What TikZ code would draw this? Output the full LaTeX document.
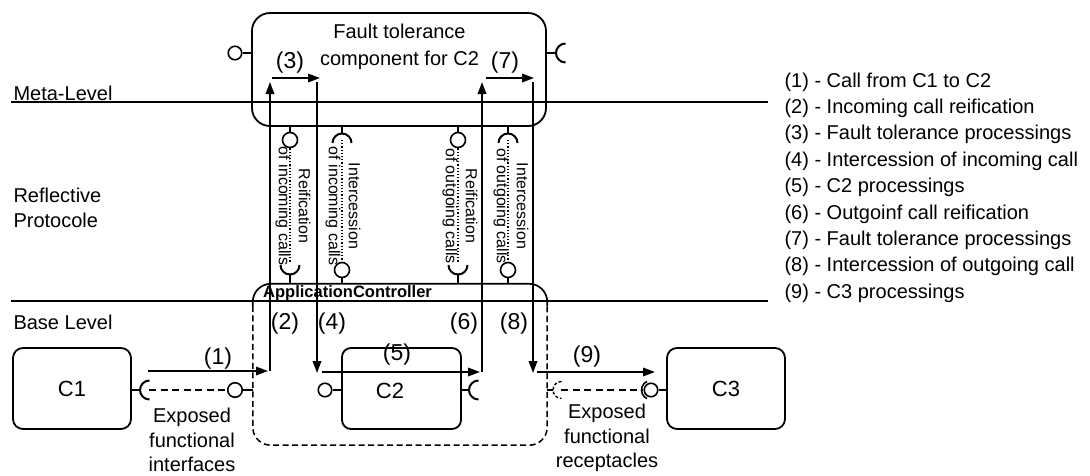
\documentclass[tikz,border=0pt]{standalone}
\usepackage{fontspec}
\setmainfont{Liberation Sans}
\usetikzlibrary{arrows.meta}
\newcommand\myfs[2]{\fontsize{#1}{#2}\selectfont}
\begin{document}
\begin{tikzpicture}[x=1pt,y=-1pt,
  box/.style={draw, line width=1.8pt, inner sep=0pt},
  ball/.style={draw, circle, line width=1.6pt, minimum size=13.5pt, inner sep=0pt},
  pball/.style={ball, minimum size=15pt},
  thin/.style={line width=1.6pt},
  cupl/.style={line width=2pt},
  arr/.style={line width=1.8pt, -{Triangle[length=12pt,width=8.5pt]}},
  dsh/.style={line width=1.5pt, dash pattern=on 7pt off 4.5pt},
  acd/.style={line width=1.5pt, dash pattern=on 6pt off 3.5pt},
  dots/.style={line width=1.2pt, dash pattern=on 1.2pt off 2pt},
  lab/.style={font=\myfs{23}{27}},
  txt/.style={font=\myfs{20}{24}},
  ptxt/.style={font=\myfs{16}{20}, rotate=-90, align=center, inner sep=0pt},
]
\useasboundingbox (0,0) rectangle (1090,475);

% level lines
\coordinate (mlL) at (11,102); \coordinate (mlR) at (768,102);
\coordinate (blL) at (11,301); \coordinate (blR) at (768,301);
\draw[line width=1.7pt] (mlL) -- (mlR);
\draw[line width=1.7pt] (blL) -- (blR);
\node[txt, anchor=west] (meta) at (10,93) {Meta-Level};
\node[txt, anchor=west, align=left, font=\myfs{20}{25}] (refl) at (10,207.5) {Reflective\\Protocole};
\node[txt, anchor=west] (base) at (10,322) {Base Level};

% fault tolerance component
\node[box, rounded corners=18pt, minimum width=294pt, minimum height=113pt] (FT) at (399,69.5) {};
\node[align=center, font=\myfs{20}{27}] (FTt) at (399.5,46.5) {Fault tolerance\\component for C2};
\node[ball] (ftb) at (235,53) {};
\draw[thin] (ftb.east) -- (ftb.east -| FT.west);
\coordinate (ftc) at (556,53);
\draw[thin] (ftc -| FT.east) -- (ftc);
\draw[cupl] ([shift={(90:9.5pt)}]565.5,53) arc (90:270:9.5pt);

% application controller
\node[minimum width=294pt, minimum height=161pt, inner sep=0pt] (AC) at (400,364.5) {};
\draw[line width=1.7pt, rounded corners=18pt] ([yshift=-22pt]AC.north west) |- (AC.north) -| ([yshift=-22pt]AC.north east);
\draw[acd, rounded corners=18pt] ([yshift=-22pt]AC.north west) |- (AC.south) -| ([yshift=-22pt]AC.north east);
\node[anchor=west, font=\myfs{16.5}{20}\bfseries, inner sep=0pt] (ACt) at (263,293) {ApplicationController};

% components
\node[box, rounded corners=10pt, minimum width=118pt, minimum height=81pt, font=\myfs{22}{26}] (C1) at (72,388.5) {C1};
\node[box, rounded corners=9pt, minimum width=119pt, minimum height=81pt] (C2) at (401.5,388.5) {};
\node[font=\myfs{22}{26}] (C2t) at (390,391) {C2};
\node[box, rounded corners=10pt, minimum width=118pt, minimum height=81pt, font=\myfs{22}{26}] (C3) at (726,388.5) {C3};

% C1 receptacle and exposed interface
\coordinate (c1c) at (140,390);
\draw[thin] (c1c -| C1.east) -- (c1c);
\draw[cupl] ([shift={(90:9.5pt)}]149.5,390) arc (90:270:9.5pt);
\node[ball, minimum size=14.5pt] (eib) at (235,390) {};
\draw[thin] (eib.east) -- (eib.east -| AC.west);
\coordinate (c1d) at (149,390);
\draw[dsh] (c1d) -- (eib.west);
\node[txt, align=center, font=\myfs{20}{24.5}] (eit) at (192,440) {Exposed\\functional\\interfaces};

% C2 interface and receptacle
\node[ball] (c2b) at (325,390) {};
\draw[thin] (c2b.east) -- (c2b.east -| C2.west);
\coordinate (c2c) at (469,390);
\draw[thin] (c2c -| C2.east) -- (c2c);
\draw[cupl] ([shift={(90:9.5pt)}]478.5,390) arc (90:270:9.5pt);

% exposed receptacle and C3 interface
\coordinate (erc) at (553,390);
\draw[acd] (erc -| AC.east) -- (erc);
\draw[line width=1.4pt, dash pattern=on 3pt off 2pt] ([shift={(90:8.5pt)}]561.5,390) arc (90:270:8.5pt);
\node[ball] (c3b) at (651,390) {};
\draw[thin] (c3b.east) -- (c3b.east -| C3.west);
\draw[thin] ([shift={(115:9.5pt)}]651,390) arc (115:245:9.5pt);
\coordinate (erd) at (561,390);
\draw[dsh] (erd) -- (c3b.west);
\node[txt, align=center, font=\myfs{20}{24.5}] (ert) at (607,438) {Exposed\\functional\\receptacles};

% reflective protocol ports
% port 1
\node[pball] (t1) at (290,140) {};
\draw[thin] (t1.north |- FT.south) -- (t1.north);
\draw[cupl] ([shift={(180:9.5pt)}]290,265) arc (180:360:9.5pt);
\coordinate (u1) at (290,274.5);
\draw[thin] (u1) -- (u1 |- AC.north);
\coordinate (d1) at (290,262);
\draw[dots] (t1.south) -- (d1);
\node[ptxt] (p1t) at (293,206) {Reification\\of incoming calls};
% port 2
\coordinate (v2) at (342,133.5);
\draw[thin] (v2 |- FT.south) -- (v2);
\draw[cupl] ([shift={(0:9.5pt)}]342,143) arc (0:180:9.5pt);
\node[pball] (b2) at (342,270) {};
\draw[thin] (b2.south) -- (b2.south |- AC.north);
\coordinate (d2) at (342,140);
\draw[dots] (d2) -- (b2.north);
\node[ptxt] (p2t) at (343,206) {Intercession\\of incoming calls};
% port 3
\node[pball] (t3) at (458,140) {};
\draw[thin] (t3.north |- FT.south) -- (t3.north);
\draw[cupl] ([shift={(180:9.5pt)}]458,265) arc (180:360:9.5pt);
\coordinate (u3) at (458,274.5);
\draw[thin] (u3) -- (u3 |- AC.north);
\coordinate (d3) at (458,262);
\draw[dots] (t3.south) -- (d3);
\node[ptxt] (p3t) at (460,206) {Reification\\of outgoing calls};
% port 4
\coordinate (v4) at (508,133.5);
\draw[thin] (v4 |- FT.south) -- (v4);
\draw[cupl] ([shift={(0:9.5pt)}]508,143) arc (0:180:9.5pt);
\node[pball] (b4) at (508,270) {};
\draw[thin] (b4.south) -- (b4.south |- AC.north);
\coordinate (d4) at (508,140);
\draw[dots] (d4) -- (b4.north);
\node[ptxt] (p4t) at (511,206) {Intercession\\of outgoing calls};

% call arrows
\coordinate (a1s) at (148,371); \coordinate (a1e) at (268,371);
\coordinate (a2s) at (270,371); \coordinate (a2e) at (270,82);
\coordinate (a3s) at (272,78);  \coordinate (a3e) at (320,78);
\coordinate (a4s) at (317,82);  \coordinate (a4e) at (317,373);
\coordinate (a5s) at (322,372); \coordinate (a5e) at (480,372);
\coordinate (a6s) at (482,372); \coordinate (a6e) at (482,82);
\coordinate (a7s) at (486,78);  \coordinate (a7e) at (534,78);
\coordinate (a8s) at (533,82);  \coordinate (a8e) at (533,373);
\coordinate (a9s) at (537,372); \coordinate (a9e) at (655,372);
\draw[arr] (a1s) -- (a1e);
\draw[arr] (a2s) -- (a2e);
\draw[arr] (a3s) -- (a3e);
\draw[arr] (a4s) -- (a4e);
\draw[arr] (a5s) -- (a5e);
\draw[arr] (a6s) -- (a6e);
\draw[arr] (a7s) -- (a7e);
\draw[arr] (a8s) -- (a8e);
\draw[arr] (a9s) -- (a9e);
\node[lab] (l1) at (218,359) {(1)};
\node[lab] (l2) at (285,324) {(2)};
\node[lab] (l3) at (290,63) {(3)};
\node[lab] (l4) at (332,324) {(4)};
\node[lab] (l5) at (397,355) {(5)};
\node[lab] (l6) at (464,324) {(6)};
\node[lab] (l7) at (505,63) {(7)};
\node[lab] (l8) at (514,324) {(8)};
\node[lab] (l9) at (587,357) {(9)};

% legend
\node[txt, anchor=west] (g1) at (781,82) {(1) - Call from C1 to C2};
\node[txt, anchor=west] (g2) at (781,108.4) {(2) - Incoming call reification};
\node[txt, anchor=west] (g3) at (781,134.8) {(3) - Fault tolerance processings};
\node[txt, anchor=west] (g4) at (781,161.2) {(4) - Intercession of incoming call};
\node[txt, anchor=west] (g5) at (781,187.6) {(5) - C2 processings};
\node[txt, anchor=west] (g6) at (781,214) {(6) - Outgoinf call reification};
\node[txt, anchor=west] (g7) at (781,240.4) {(7) - Fault tolerance processings};
\node[txt, anchor=west] (g8) at (781,266.8) {(8) - Intercession of outgoing call};
\node[txt, anchor=west] (g9) at (781,293.2) {(9) - C3 processings};
\end{tikzpicture}
\end{document}
